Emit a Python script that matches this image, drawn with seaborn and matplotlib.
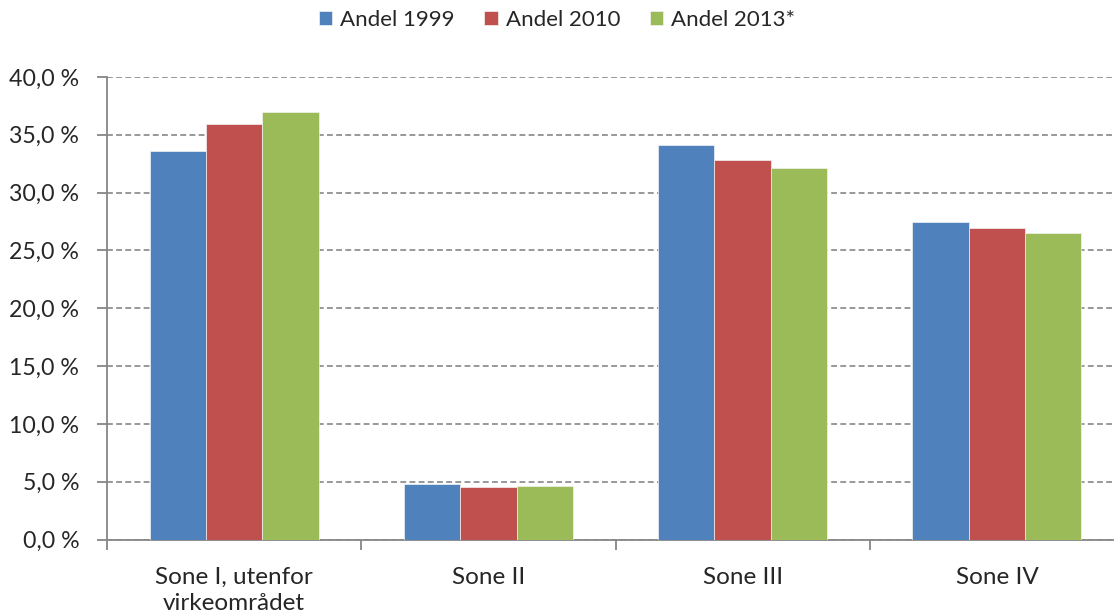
import matplotlib
matplotlib.use("Agg")
import matplotlib.pyplot as plt
import seaborn as sns
import pandas as pd
from matplotlib.ticker import FixedLocator, FuncFormatter

categories = ["Sone I, utenfor\nvirkeområdet", "Sone II", "Sone III", "Sone IV"]
series = ["Andel 1999", "Andel 2010", "Andel 2013*"]
andel_1999 = [33.6, 4.8, 34.1, 27.5]
andel_2010 = [35.9, 4.5, 32.8, 26.9]
andel_2013 = [37.0, 4.6, 32.1, 26.5]
colors = ["#4F81BD", "#C0504D", "#9BBB59"]
yticks = [0, 5, 10, 15, 20, 25, 30, 35, 40]

rows = []
for name, vals in zip(series, [andel_1999, andel_2010, andel_2013]):
    for c, v in zip(categories, vals):
        rows.append({"Sone": c, "Serie": name, "Verdi": v})
df = pd.DataFrame(rows)

sns.set_style("white")
plt.rcParams["font.family"] = ["Lato", "DejaVu Sans"]

fig = plt.figure(figsize=(11.14, 6.16), dpi=100)
W, H = 1114, 616
left_px, right_px, top_px, bot_px = 107, 1124, 77, 539.5
ax = fig.add_axes([left_px / W, (H - bot_px) / H, (right_px - left_px) / W, (bot_px - top_px) / H])

sns.barplot(data=df, x="Sone", y="Verdi", hue="Serie", palette=colors, ax=ax, saturation=1,
            width=0.665, gap=0, errorbar=None, edgecolor="#f2f2f2", linewidth=0.5, zorder=3)

ax.set_xlim(-0.5, 3.5)
ax.set_ylim(0, 40)
ax.set_yticks(yticks)
ax.yaxis.set_major_formatter(FuncFormatter(lambda v, p: f"{v:.1f}".replace(".", ",") + " %"))
ax.set_xlabel("")
ax.set_ylabel("")

ax.grid(axis="y", linestyle=(0, (3.5, 2)), color="#868686", linewidth=1.2, zorder=0)
ax.grid(axis="x", visible=False)
ax.set_axisbelow(True)

for s in ["top", "right"]:
    ax.spines[s].set_visible(False)
for s in ["left", "bottom"]:
    ax.spines[s].set_color("#868686")
    ax.spines[s].set_linewidth(1.3)

ax.tick_params(axis="y", which="major", direction="out", length=7, width=1.3, color="#868686",
               labelsize=16.7, pad=13, left=True)
ax.tick_params(axis="x", which="major", length=0, labelsize=17.5, pad=20)
ax.xaxis.set_minor_locator(FixedLocator([-0.5, 0.5, 1.5, 2.5, 3.5]))
ax.tick_params(axis="x", which="minor", direction="out", length=7, width=1.3, color="#868686", bottom=True)
for lab in ax.get_xticklabels():
    lab.set_linespacing(1.3)

handles, labels = ax.get_legend_handles_labels()
ax.legend(handles, labels, loc="center", bbox_to_anchor=(557 / W, 1 - 20 / H),
          bbox_transform=fig.transFigure, ncol=3, frameon=False, fontsize=16,
          handlelength=0.6, handleheight=0.6, handletextpad=0.35, columnspacing=1.35)

fig.savefig("out.png", dpi=100)
